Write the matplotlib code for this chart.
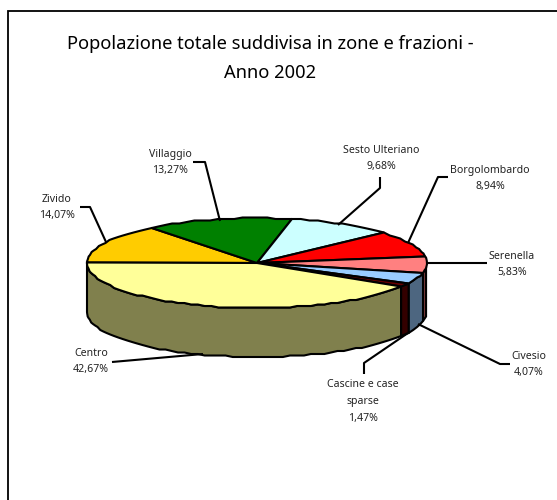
import numpy as np
import matplotlib
matplotlib.use('Agg')
import matplotlib.pyplot as plt

W, H = 557, 500

names = ['Zivido', 'Villaggio', 'Sesto Ulteriano', 'Borgolombardo', 'Serenella',
         'Civesio', 'Cascine e case\nsparse', 'Centro']
shares = [14.07, 13.27, 9.68, 8.94, 5.83, 4.07, 1.47, 42.67]
top_colors = ['#FFCC00', '#008000', '#CCFFFF', '#FF0000', '#FF8080', '#99CCFF', '#660000', '#FFFF99']
side_colors = ['#808000', '#004000', '#668080', '#800000', '#804040', '#4D6680', '#330000', '#80804D']

# label centres and leader lines in pixels
label_pos = [(57, 207), (170, 162), (381, 158), (490, 178), (512, 264), (529, 364), (363, 401), (91, 361)]
leaders = [
    [(80, 207), (90, 207), (106, 242)],
    [(193, 162), (205, 162), (220, 221)],
    [(380, 177), (380, 188), (338, 225)],
    [(448, 177), (438, 177), (408, 243)],
    [(487, 263), (427, 263)],
    [(510, 364), (500, 364), (418, 324)],
    [(364, 374), (364, 363), (408, 333)],
    [(112, 362), (203, 354)],
]

cx, cy, rx, ry, depth = 257, 263, 170, 45, 49
grid = 1.5


def rim(a0, a1, dy=0):
    # outline is stepped like the original low-res pie
    n = max(2, int(abs(a1 - a0) / 2.5))
    a = np.linspace(a0, a1, n)
    # the 3d view pulls the right side round a few degrees
    t = np.radians(a - 3 * (1 + np.cos(np.radians(a))))
    x = cx + rx * np.cos(t)
    y = cy - ry * np.sin(t) + dy
    return x, np.round(y / grid) * grid


plt.rcParams['font.family'] = ['Noto Sans', 'DejaVu Sans']
fig = plt.figure(figsize=(W / 100, H / 100), dpi=100)
ax = fig.add_axes([0, 0, 1, 1])
ax.set_xlim(0, W)
ax.set_ylim(H, 0)
ax.axis('off')

# chart frame, only left and top edges fall inside the picture
ax.plot([7.5, 7.5, W], [H, 11, 11], color='black', lw=1.3, solid_joinstyle='miter')

ends = 180 - np.cumsum(shares) * 3.6
starts = np.r_[180, ends[:-1]]

# walls first, then the top
for a0, a1, c in zip(starts, ends, side_colors):
    hi = min(a0, 0)
    if a1 < hi:
        x, y = rim(hi, a1)
        xb, yb = rim(a1, hi, depth)
        ax.fill(np.r_[x, xb], np.r_[y, yb], facecolor=c, edgecolor='black', lw=1.5, zorder=2)

for a0, a1, c in zip(starts, ends, top_colors):
    x, y = rim(a0, a1)
    ax.fill(np.r_[cx, x], np.r_[cy, y], facecolor=c, edgecolor='black', lw=1.5, zorder=3)

for pts in leaders:
    xs, ys = zip(*pts)
    ax.plot(xs, ys, color='black', lw=1.5, zorder=4, solid_capstyle='butt')

for name, val, (lx, ly) in zip(names, shares, label_pos):
    txt = name + '\n' + f'{val:.2f}'.replace('.', ',') + '%'
    ax.text(lx, ly + 0.5, txt, ha='center', va='center', fontsize=7.6, color='#222222',
            linespacing=1.72, zorder=5)

ax.text(270, 58.5, 'Popolazione totale suddivisa in zone e frazioni -\nAnno 2002',
        ha='center', va='center', fontsize=13.2, color='black', linespacing=1.85)

fig.savefig('out.png', dpi=100)
